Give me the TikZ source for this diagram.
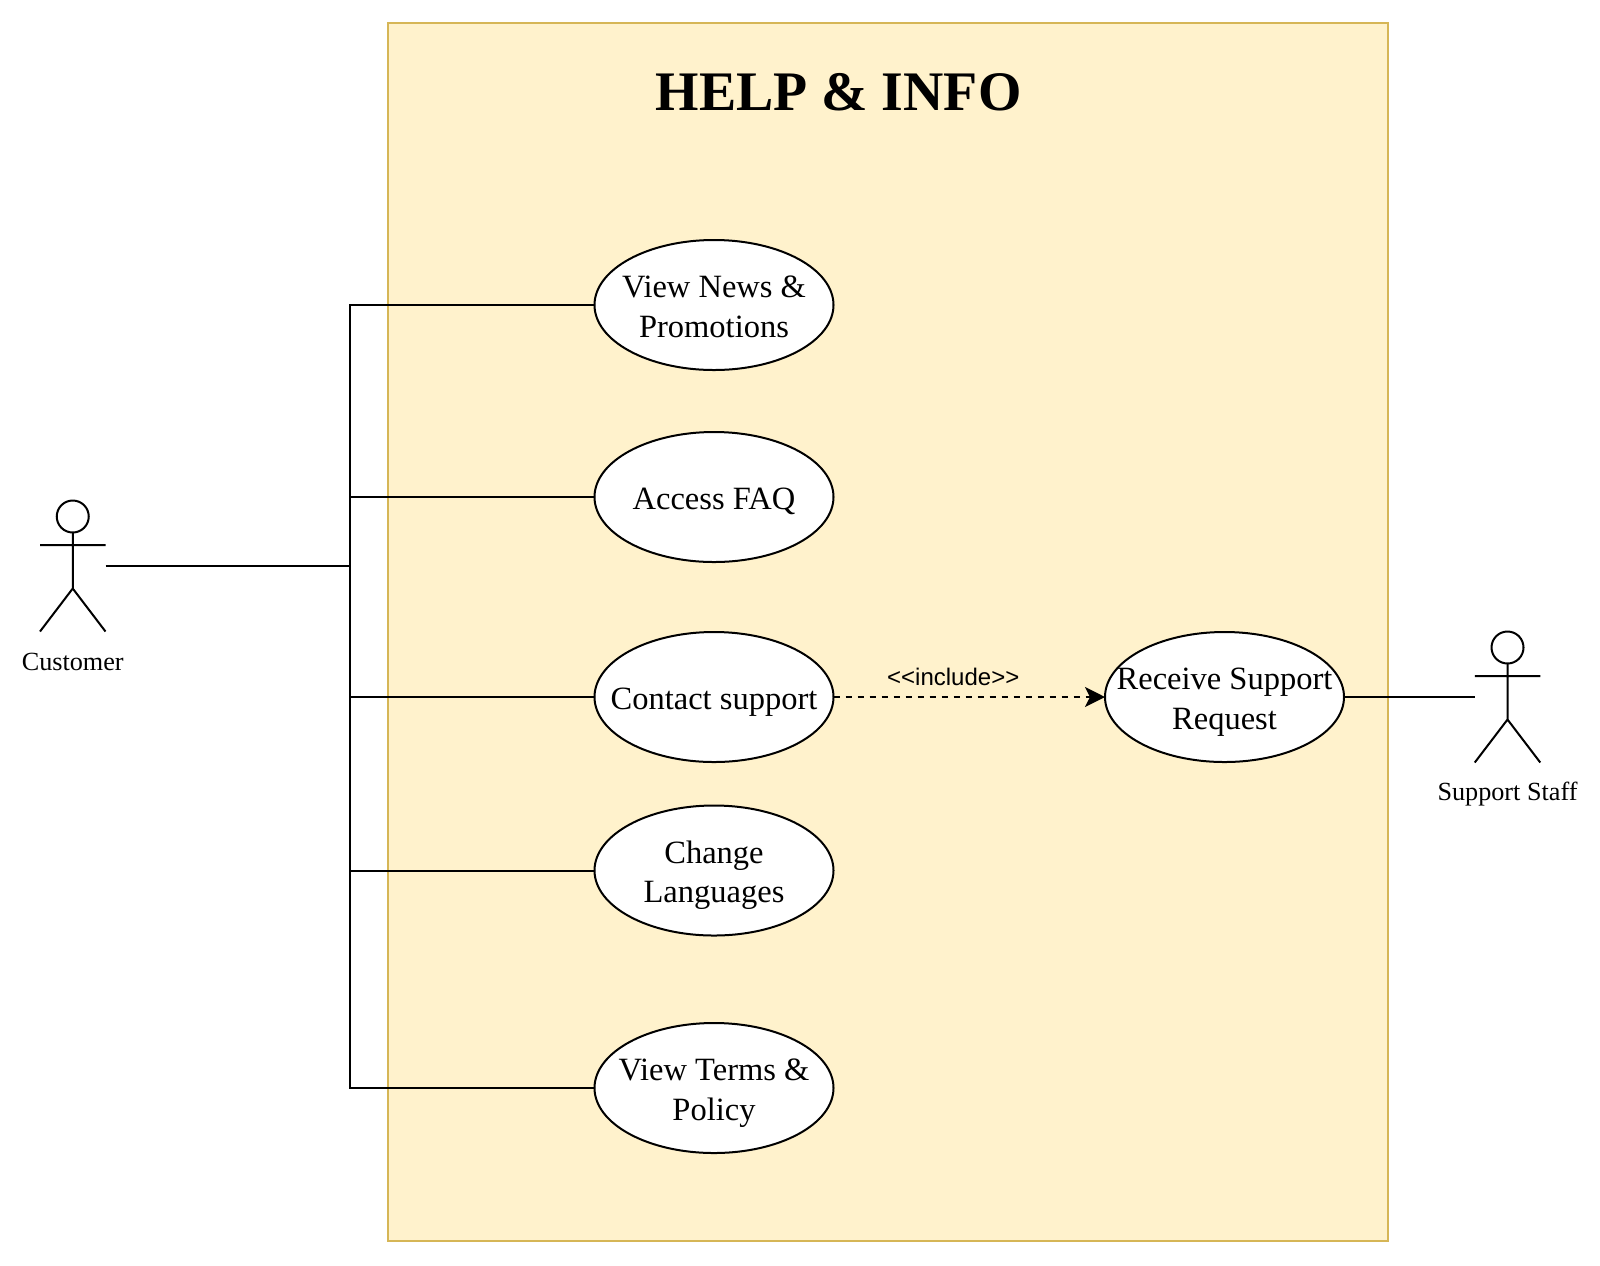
\documentclass[tikz,border=0pt]{standalone}
\usepackage{fontspec}
\setmainfont{Liberation Serif}
\newfontfamily\labelfont{Liberation Sans}
\usetikzlibrary{arrows.meta,positioning,shapes.geometric}

\definecolor{framefill}{HTML}{FFF2CC}
\definecolor{frameline}{HTML}{D6B656}

% text of a use case, set a little low in its ellipse
\newcommand{\casetext}[1]{\raisebox{-2.3pt}[\height][\depth]{\begin{tabular}{@{}c@{}}#1\end{tabular}}}

\tikzset{
  usecase/.style={ellipse,draw,fill=white,line width=1pt,minimum width=119.5pt,minimum height=65pt,
    inner xsep=-15pt,inner ysep=0pt,outer sep=0pt,font=\fontsize{16.25}{19.7}\selectfont},
  actor/.style={minimum width=32.75pt,minimum height=65.5pt,inner sep=0pt,outer sep=0pt},
  actortext/.style={inner sep=0pt,font=\fontsize{13.1}{15}\selectfont},
  stickman/.pic={
    \draw[line width=1pt] (0,-49.5) circle (16);
    \draw[line width=1pt] (0,-33) -- (0,22.5) (-32.75,-21) -- (32.75,-21)
      (-32.75,65.5) -- (0,22.5) -- (32.75,65.5);
  }
}

\begin{document}
\begin{tikzpicture}[x=.5pt,y=-.5pt,node distance=96pt,on grid,line width=1pt]
   \useasboundingbox (0,0) rectangle (1600,1265);
   % system frame
   \node[draw=frameline,fill=framefill,line width=1pt,minimum width=500pt,minimum height=609pt,inner sep=0pt] (frame) at (888,632) {};
   \node[font=\fontsize{27.9}{32}\selectfont\bfseries,inner sep=0pt] (title) at (838.5,92) {HELP \& INFO};

   % use cases
   \node[usecase] (news) at (714,305) {\casetext{View News \&\\Promotions}};
   \node[usecase] (faq) [below=96pt of news] {\casetext{Access FAQ}};
   \node[usecase] (contact) [below=100pt of faq] {\casetext{Contact support}};
   \node[usecase] (languages) [below=86.75pt of contact] {\casetext{Change\\Languages}};
   \node[usecase] (terms) [below=108.75pt of languages] {\casetext{View Terms \&\\Policy}};
   \node[usecase] (receive) [right=255.25pt of contact] {\casetext{Receive Support\\Request}};

   % actors
   \node[actor] (customer) at (72.75,566) {};
   \pic at (customer) {stickman};
   \node[actortext] (customertext) [below=48pt of customer] {Customer};
   \node[actor] (staff) at (1507.5,697) {};
   \pic at (staff) {stickman};
   \node[actortext] (stafftext) [below=48.5pt of staff] {Support Staff};

   \coordinate (junction) at (350,566);

   \draw (customer.east) -- (junction);
   \draw (junction) |- (news.west);
   \draw (junction) |- (faq.west);
   \draw (junction) |- (contact.west);
   \draw (junction) |- (languages.west);
   \draw (junction) |- (terms.west);
   \draw[dashed,-{Stealth[length=10pt,width=10pt,inset=2.5pt]}] (contact) -- node[above=5pt,xshift=-8pt,font=\labelfont\fontsize{12}{14}\selectfont,inner sep=0pt] (include) {<{}<include>{}>} (receive);
   \draw (receive) -- (staff.west);
\end{tikzpicture}
\end{document}
